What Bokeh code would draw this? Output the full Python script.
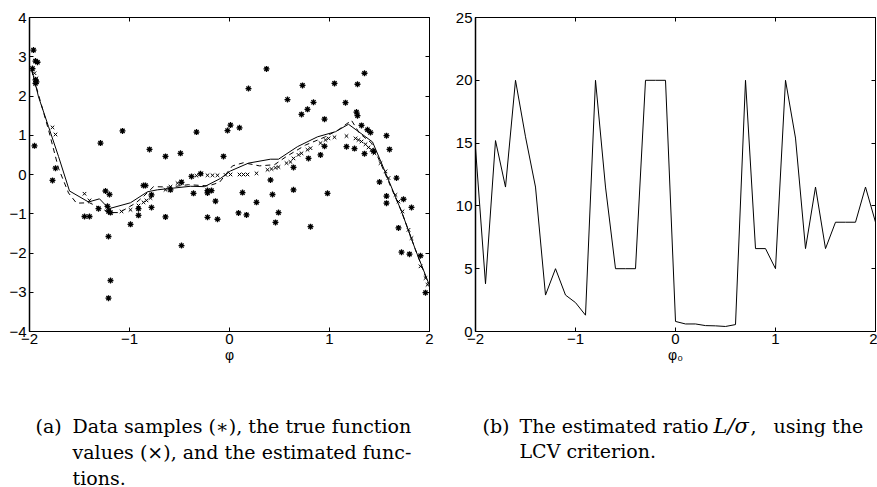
from bokeh.plotting import figure
from bokeh.layouts import row, column
from bokeh.models import Range1d, LinearAxis, FixedTicker
from bokeh.core.properties import value
from bokeh.embed import file_html
from bokeh.resources import INLINE

# ---------------- data: panel (a) ----------------
samples_x = [-1.96, -1.94, -1.92, -1.94, -1.93, -1.94, -1.97, -1.95, -1.77, -1.74,
             -1.45, -1.40, -1.31, -1.29, -1.24, -1.20, -1.22, -1.21, -1.19, -1.21,
             -1.19, -1.21, -1.07, -0.99, -0.91, -0.91, -0.86, -0.84, -0.80, -0.78,
             -0.78, -0.64, -0.64, -0.59, -0.49, -0.48, -0.48, -0.38, -0.36, -0.33,
             -0.29, -0.22, -0.22, -0.18, -0.22, -0.14, -0.12, -0.06, -0.02, 0.01,
             0.10, 0.19, 0.37, 0.13, 0.09, 0.17, 0.27, 0.41, 0.43, 0.49,
             0.46, 0.58, 0.64, 0.64, 0.73, 0.72, 0.78, 0.84, 0.79, 0.81,
             0.91, 0.95, 0.95, 0.98, 1.05, 1.16, 1.17, 1.25, 1.27, 1.28,
             1.28, 1.35, 1.32, 1.35, 1.38, 1.41, 1.44, 1.57, 1.60, 1.50,
             1.57, 1.57, 1.67, 1.74, 1.82, 1.69, 1.72, 1.80, 1.91, 1.96]
samples_y = [3.17, 2.89, 2.86, 2.41, 2.36, 2.32, 2.70, 0.73, -0.15, 0.16,
             -1.07, -1.07, -0.87, 0.80, -0.42, -0.51, -0.81, -0.94, -0.97, -1.58,
             -2.70, -3.15, 1.11, -1.27, -0.87, -1.04, -0.28, -0.28, 0.64, -0.52,
             -0.84, 0.46, -1.08, -0.39, 0.54, -0.20, -1.81, -0.05, -0.48, 1.08,
             0.02, -0.41, -0.47, -0.41, -1.09, -0.68, -1.14, 0.46, 1.12, 1.26,
             1.19, 2.19, 2.69, -0.46, -0.98, -1.03, -0.71, -0.14, -0.51, -0.97,
             -1.22, 1.91, 0.18, -0.39, 2.27, 1.53, 1.66, 1.84, 0.41, -1.33,
             0.50, 1.41, 0.72, -0.48, 2.32, 1.83, 0.71, 0.66, 1.59, 1.50,
             2.30, 2.58, 1.25, 0.53, 1.14, 1.07, 0.59, 0.99, 0.64, -0.19,
             -0.55, -0.73, -0.09, -0.63, -0.84, -1.36, -1.98, -2.03, -2.07, -3.01]

truth_x = [-1.97, -1.95, -1.93, -1.77, -1.74, -1.45, -1.40, -1.20, -1.08, -0.99,
           -0.91, -0.86, -0.83, -0.79, -0.64, -0.59, -0.52, -0.48, -0.38, -0.33,
           -0.28, -0.22, -0.17, -0.12, -0.04, 0.01, 0.10, 0.14, 0.18, 0.27,
           0.38, 0.42, 0.46, 0.49, 0.57, 0.61, 0.64, 0.69, 0.72, 0.78,
           0.81, 0.91, 0.96, 0.99, 1.05, 1.17, 1.26, 1.29, 1.32, 1.36,
           1.39, 1.42, 1.45, 1.51, 1.56, 1.59, 1.66, 1.69, 1.73, 1.79,
           1.82, 1.91, 1.96, 1.98]
truth_y = [2.68, 2.58, 2.45, 1.20, 1.02, -0.49, -0.66, -0.90, -0.94, -0.90,
           -0.79, -0.71, -0.66, -0.60, -0.39, -0.31, -0.22, -0.18, -0.05, -0.03,
           0.02, -0.02, -0.02, -0.02, -0.01, 0.00, 0.00, 0.00, 0.00, 0.03,
           0.12, 0.14, 0.17, 0.19, 0.29, 0.32, 0.41, 0.50, 0.54, 0.63,
           0.67, 0.80, 0.88, 0.92, 0.95, 0.98, 0.92, 0.88, 0.84, 0.77,
           0.69, 0.63, 0.54, 0.29, 0.08, -0.09, -0.52, -0.69, -0.94, -1.41,
           -1.62, -2.34, -2.64, -2.81]

est_solid_x = [-1.98, -1.91, -1.81, -1.71, -1.60, -1.41, -1.30, -1.21, -1.19, -0.99,
               -0.82, -0.72, -0.39, -0.25, -0.09, 0.01, 0.19, 0.41, 0.49, 0.68,
               0.88, 1.06, 1.19, 1.43, 1.52, 1.72, 1.86, 1.99]
est_solid_y = [2.70, 1.98, 1.22, 0.46, -0.42, -0.70, -0.62, -0.86, -0.86, -0.72,
               -0.44, -0.39, -0.30, -0.31, -0.10, 0.09, 0.29, 0.39, 0.39, 0.71,
               0.96, 1.09, 1.28, 0.83, 0.29, -0.94, -1.92, -2.76]

est_dash_x = [-1.98, -1.81, -1.71, -1.61, -1.53, -1.40, -1.20, -1.10, -0.94, -0.86,
              -0.76, -0.60, -0.41, -0.21, -0.10, 0.03, 0.14, 0.30, 0.45, 0.57,
              0.76, 0.95, 1.09, 1.22, 1.30, 1.42, 1.50, 1.72, 1.86, 1.99]
est_dash_y = [2.66, 1.14, 0.16, -0.47, -0.73, -0.72, -0.97, -0.97, -0.73, -0.56,
              -0.31, -0.32, -0.26, -0.29, -0.20, 0.22, 0.30, 0.22, 0.25, 0.46,
              0.75, 0.95, 1.14, 1.38, 1.05, 0.80, 0.35, -0.94, -1.92, -2.80]

# ---------------- data: panel (b) ----------------
phi0 = [-2.0, -1.9, -1.8, -1.7, -1.6, -1.5, -1.4, -1.3, -1.2, -1.1,
        -1.0, -0.9, -0.8, -0.7, -0.6, -0.5, -0.4, -0.3, -0.2, -0.1,
        0.0, 0.1, 0.2, 0.3, 0.4, 0.5, 0.6, 0.7, 0.8, 0.9,
        1.0, 1.1, 1.2, 1.3, 1.4, 1.5, 1.6, 1.7, 1.8, 1.9, 2.0]
ratio = [14.6, 3.8, 15.2, 11.5, 20.0, 15.5, 11.5, 2.9, 5.0, 2.9,
         2.3, 1.3, 20.0, 11.5, 5.0, 5.0, 5.0, 20.0, 20.0, 20.0,
         0.8, 0.6, 0.6, 0.47, 0.45, 0.4, 0.55, 20.0, 6.6, 6.6,
         5.0, 20.0, 15.4, 6.6, 11.5, 6.6, 8.7, 8.7, 8.7, 11.5, 8.7]

xticks = [-2, -1, 0, 1, 2]
yticks_a = [-4, -3, -2, -1, 0, 1, 2, 3, 4]
yticks_b = [0, 5, 10, 15, 20, 25]

xlabel_a = "\u03c6"
xlabel_b = "\u03c6\u2080"
caption_a = ["Data samples (\u2217), the true function",
             "values (\u00d7), and the estimated func-",
             "tions."]
caption_b1 = "The estimated ratio"
caption_b_math = "L/\u03c3"
caption_b_comma = ","
caption_b2 = "using the"
caption_b3 = "LCV criterion."

TICK_FONT = "Liberation Sans"
CAP_FONT = "DejaVu Serif"
CAP_SIZE = "19px"


def minus(ticks):
    return {t: ("\u2212" + str(abs(t))) for t in ticks if t < 0}


def style(p, xt, yt, xlabel):
    bottom = p.below[0]
    left = p.left[0]
    bottom.ticker = FixedTicker(ticks=xt)
    left.ticker = FixedTicker(ticks=yt)
    bottom.major_label_overrides = minus(xt)
    left.major_label_overrides = minus(yt)
    top = LinearAxis(ticker=FixedTicker(ticks=xt),
                     major_label_overrides={t: "" for t in xt})
    right = LinearAxis(ticker=FixedTicker(ticks=yt),
                       major_label_overrides={t: "" for t in yt})
    p.add_layout(top, "above")
    p.add_layout(right, "right")
    for ax in [bottom, left, top, right]:
        ax.major_tick_in = 4
        ax.major_tick_out = 0
        ax.minor_tick_line_color = None
        ax.axis_line_color = "black"
        ax.major_tick_line_color = "black"
        ax.major_label_text_font = TICK_FONT
        ax.major_label_text_font_size = "15px"
        ax.major_label_text_color = "black"
    left.axis_line_width = 1.5
    bottom.major_label_standoff = 2
    left.major_label_standoff = 3
    bottom.axis_label = xlabel
    bottom.axis_label_standoff = 0
    bottom.axis_label_text_font = TICK_FONT
    bottom.axis_label_text_font_size = "14px"
    bottom.axis_label_text_font_style = "normal"
    bottom.axis_label_text_color = "black"
    for ax in [top, right]:
        ax.major_label_standoff = 0
    p.grid.visible = False
    p.outline_line_color = "black"
    p.background_fill_color = "white"
    p.border_fill_color = "white"


def caption_fig(w, h):
    c = figure(width=w, height=h, output_backend="svg", toolbar_location=None,
               x_range=Range1d(0, w), y_range=Range1d(h, 0),
               x_axis_type=None, y_axis_type=None,
               min_border_left=0, min_border_right=0, min_border_top=0,
               min_border_bottom=0)
    c.grid.visible = False
    c.outline_line_color = None
    c.background_fill_color = "white"
    c.border_fill_color = "white"
    return c


def txt(c, x, y, t, style_="normal", size=CAP_SIZE):
    c.text(x=[x], y=[y], text=[t], text_font=value(CAP_FONT),
           text_font_size=value(size), text_font_style=style_,
           text_baseline="alphabetic", text_align="left", text_color="black")


TOP_H = 372
CAP_H = 487 - TOP_H

# ---------------- panel (a) ----------------
p1 = figure(width=440, height=TOP_H, output_backend="svg", toolbar_location=None,
            x_range=Range1d(-2, 2), y_range=Range1d(-4, 4),
            min_border_left=29, min_border_right=11, min_border_top=17,
            min_border_bottom=TOP_H - 332)
style(p1, xticks, yticks_a, xlabel_a)
p1.line(est_solid_x, est_solid_y, line_color="black", line_width=1)
p1.line(est_dash_x, est_dash_y, line_color="black", line_width=1, line_dash="5 4")
p1.scatter(truth_x, truth_y, marker="x", size=5, line_color="black", line_width=1)
p1.scatter(samples_x, samples_y, marker="asterisk", size=6, line_color="black",
           line_width=1.3)

# ---------------- panel (b) ----------------
p2 = figure(width=437, height=TOP_H, output_backend="svg", toolbar_location=None,
            x_range=Range1d(-2, 2), y_range=Range1d(0, 25),
            min_border_left=35, min_border_right=2, min_border_top=15,
            min_border_bottom=TOP_H - 331)
style(p2, xticks, yticks_b, xlabel_b)
p2.line(phi0, ratio, line_color="black", line_width=1)

# ---------------- captions ----------------
c1 = caption_fig(440, CAP_H)
base = 432 - TOP_H - 7
txt(c1, 35, base, "(a)")
for i, t in enumerate(caption_a):
    txt(c1, 72, base + 26 * i, t)

c2 = caption_fig(437, CAP_H)
txt(c2, 42, base, "(b)")
txt(c2, 79, base, caption_b1)
txt(c2, 273, base, caption_b_math, style_="italic", size="21px")
txt(c2, 310, base, caption_b_comma)
txt(c2, 333, base, caption_b2)
txt(c2, 79, base + 25, caption_b3)

layout = column(row(p1, p2), row(c1, c2))
open("out.html", "w").write(file_html(layout, INLINE))
